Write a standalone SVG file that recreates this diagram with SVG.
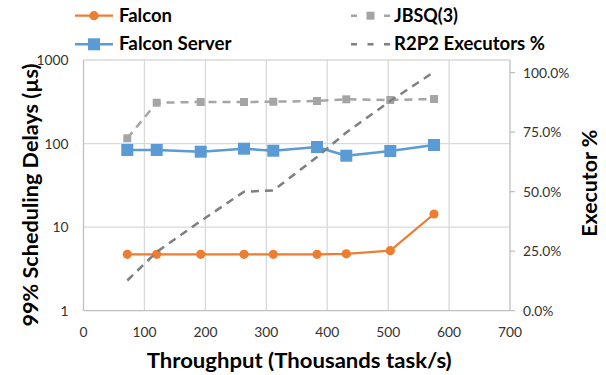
<svg xmlns="http://www.w3.org/2000/svg" width="606" height="375" viewBox="0 0 606 375">
  <defs>
    <style>
      .grid { stroke: #D9D9D9; stroke-width: 1.3; fill: none; }
      .axis { stroke: #BFBFBF; stroke-width: 1.3; fill: none; }
      .tick { font-family: Lato, "Liberation Sans", sans-serif; font-size: 13.8px; fill: #333333; }
      .title { font-family: Lato, "Liberation Sans", sans-serif; font-size: 21px; font-weight: bold; fill: #000000; }
      .legend { font-family: Lato, "Liberation Sans", sans-serif; font-size: 18.5px; font-weight: bold; fill: #000000; }
      .falcon { stroke: #ED7D31; stroke-width: 2.25; fill: none; stroke-linejoin: round; }
      .server { stroke: #5B9BD5; stroke-width: 2.5; fill: none; stroke-linejoin: round; }
      .jbsq { stroke: #A5A5A5; stroke-width: 2.5; fill: none; stroke-dasharray: 8 6; }
      .r2p2 { stroke: #7F7F7F; stroke-width: 2.5; fill: none; stroke-dasharray: 8 6; }
      .legdash { stroke-dasharray: 6 10.5; }
    </style>
    <circle id="dot" r="4.6" fill="#ED7D31"/>
    <rect id="sq-big" x="-6" y="-6" width="12" height="12" fill="#5B9BD5"/>
    <rect id="sq-small" x="-4" y="-4" width="8" height="8" fill="#A5A5A5"/>
  </defs>

  <rect width="606" height="375" fill="#FFFFFF"/>

  <!-- plot frame, gridlines and axes -->
  <g id="grid">
    <line class="grid" x1="83.5" y1="60" x2="510" y2="60"/>
    <line class="grid" x1="83.5" y1="143.6" x2="510" y2="143.6"/>
    <line class="grid" x1="83.5" y1="227.1" x2="510" y2="227.1"/>
    <line class="grid" x1="144.4" y1="60" x2="144.4" y2="310.7"/>
    <line class="grid" x1="205.4" y1="60" x2="205.4" y2="310.7"/>
    <line class="grid" x1="266.3" y1="60" x2="266.3" y2="310.7"/>
    <line class="grid" x1="327.2" y1="60" x2="327.2" y2="310.7"/>
    <line class="grid" x1="388.2" y1="60" x2="388.2" y2="310.7"/>
    <line class="grid" x1="449.1" y1="60" x2="449.1" y2="310.7"/>
  </g>
  <g id="axes">
    <line class="axis" x1="83.5" y1="60" x2="83.5" y2="310.7"/>
    <line class="axis" x1="83.5" y1="310.7" x2="510" y2="310.7"/>
    <line class="axis" x1="510" y1="60" x2="510" y2="310.7"/>
    <path class="axis" d="M510 72.7h5M510 132.2h5M510 191.7h5M510 251.2h5M510 310.7h5"/>
  </g>

  <!-- tick labels -->
  <g id="left-ticks" class="tick" text-anchor="end">
    <text x="68.5" y="65">1000</text>
    <text x="68.5" y="148.6">100</text>
    <text x="68.5" y="232.1">10</text>
    <text x="68.5" y="315.7">1</text>
  </g>
  <g id="right-ticks" class="tick">
    <text x="523" y="77.7">100.0%</text>
    <text x="523" y="137.2">75.0%</text>
    <text x="523" y="196.7">50.0%</text>
    <text x="523" y="256.2">25.0%</text>
    <text x="523" y="315.7">0.0%</text>
  </g>
  <g id="x-ticks" class="tick" text-anchor="middle">
    <text x="83.5" y="336.5">0</text>
    <text x="144.4" y="336.5">100</text>
    <text x="205.4" y="336.5">200</text>
    <text x="266.3" y="336.5">300</text>
    <text x="327.2" y="336.5">400</text>
    <text x="388.2" y="336.5">500</text>
    <text x="449.1" y="336.5">600</text>
    <text x="510" y="336.5">700</text>
  </g>

  <!-- axis titles -->
  <text class="title" x="299.2" y="368" text-anchor="middle" textLength="305" lengthAdjust="spacingAndGlyphs">Throughput (Thousands task/s)</text>
  <text class="title" transform="translate(38 195) rotate(-90)" text-anchor="middle" textLength="263" lengthAdjust="spacingAndGlyphs">99% Scheduling Delays (µs)</text>
  <text class="title" transform="translate(596.7 183.3) rotate(-90)" text-anchor="middle" textLength="107" lengthAdjust="spacingAndGlyphs">Executor %</text>

  <!-- data series -->
  <g id="connectors">
    <g id="series-falcon">
      <polyline class="falcon" points="127.3,254.3 156.7,254.3 200.7,254.3 244,254.3 273.3,254.3 317,254.3 346.3,253.8 390.3,250.7 434,214"/>
      <use href="#dot" x="127.3" y="254.3"/>
      <use href="#dot" x="156.7" y="254.3"/>
      <use href="#dot" x="200.7" y="254.3"/>
      <use href="#dot" x="244" y="254.3"/>
      <use href="#dot" x="273.3" y="254.3"/>
      <use href="#dot" x="317" y="254.3"/>
      <use href="#dot" x="346.3" y="253.8"/>
      <use href="#dot" x="390.3" y="250.7"/>
      <use href="#dot" x="434" y="214"/>
    </g>
    <g id="series-falcon-server">
      <polyline class="server" points="127.3,150 156.7,150 200.7,151.7 244,148.7 273.3,150.7 317,147 346.3,155.7 390.3,151 434,145"/>
      <use href="#sq-big" x="127.3" y="150"/>
      <use href="#sq-big" x="156.7" y="150"/>
      <use href="#sq-big" x="200.7" y="151.7"/>
      <use href="#sq-big" x="244" y="148.7"/>
      <use href="#sq-big" x="273.3" y="150.7"/>
      <use href="#sq-big" x="317" y="147"/>
      <use href="#sq-big" x="346.3" y="155.7"/>
      <use href="#sq-big" x="390.3" y="151"/>
      <use href="#sq-big" x="434" y="145"/>
    </g>
    <g id="series-jbsq">
      <polyline class="jbsq" points="127.3,138.3 156.7,102.7 200.7,102 244,102 273.3,101.7 317,101 346.3,99.3 390.3,100 434,99"/>
      <use href="#sq-small" x="127.3" y="138.3"/>
      <use href="#sq-small" x="156.7" y="102.7"/>
      <use href="#sq-small" x="200.7" y="102"/>
      <use href="#sq-small" x="244" y="102"/>
      <use href="#sq-small" x="273.3" y="101.7"/>
      <use href="#sq-small" x="317" y="101"/>
      <use href="#sq-small" x="346.3" y="99.3"/>
      <use href="#sq-small" x="390.3" y="100"/>
      <use href="#sq-small" x="434" y="99"/>
    </g>
    <g id="series-r2p2">
      <polyline class="r2p2" points="127.3,280.5 156.7,252 200.7,221 244,191.7 273.3,190.5 317,157 346.3,132.5 390.3,101 434,72"/>
    </g>
  </g>

  <!-- legend -->
  <g id="legend-falcon">
    <line class="falcon" x1="75" y1="15.7" x2="113" y2="15.7"/>
    <use href="#dot" x="94" y="15.7"/>
    <text class="legend" x="119" y="21.7" textLength="53" lengthAdjust="spacingAndGlyphs">Falcon</text>
  </g>
  <g id="legend-falcon-server">
    <line class="server" x1="75" y1="44.3" x2="113" y2="44.3"/>
    <use href="#sq-big" x="94" y="44.3"/>
    <text class="legend" x="119" y="50.3" textLength="112.5" lengthAdjust="spacingAndGlyphs">Falcon Server</text>
  </g>
  <g id="legend-jbsq">
    <line class="jbsq legdash" x1="351" y1="15.7" x2="390" y2="15.7"/>
    <use href="#sq-small" x="370.5" y="15.7"/>
    <text class="legend" x="394" y="21.7" textLength="64" lengthAdjust="spacingAndGlyphs">JBSQ(3)</text>
  </g>
  <g id="legend-r2p2">
    <line class="r2p2 legdash" x1="351" y1="44.3" x2="390" y2="44.3"/>
    <text class="legend" x="394" y="50.3" textLength="151" lengthAdjust="spacingAndGlyphs">R2P2 Executors %</text>
  </g>
</svg>
